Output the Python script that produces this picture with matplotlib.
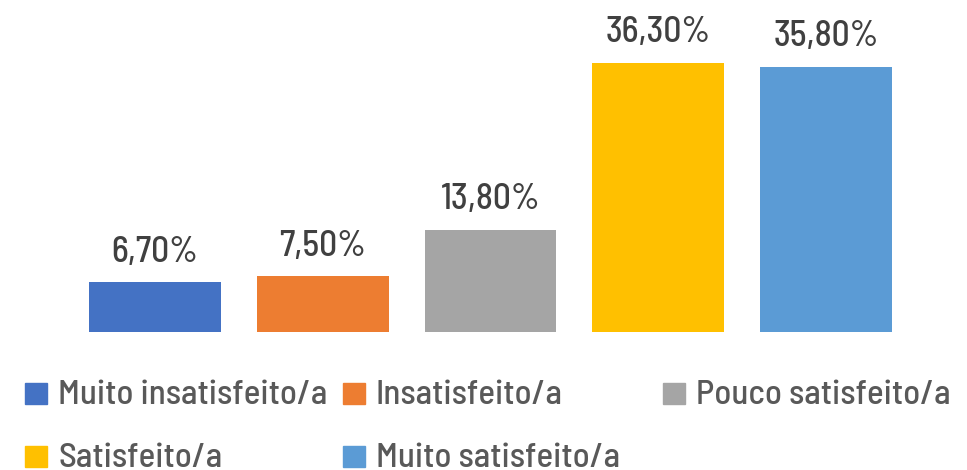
import matplotlib
matplotlib.use("Agg")
import matplotlib.pyplot as plt
from matplotlib.patches import Rectangle

categories = ["Muito insatisfeito/a", "Insatisfeito/a", "Pouco satisfeito/a",
              "Satisfeito/a", "Muito satisfeito/a"]
values = [6.7, 7.5, 13.8, 36.3, 35.8]
labels = ["6,70%", "7,50%", "13,80%", "36,30%", "35,80%"]
colors = ["#4472C4", "#ED7D31", "#A5A5A5", "#FFC000", "#5B9BD5"]

plt.rcParams["font.family"] = ["Barlow Semi Condensed", "DejaVu Sans"]

W, H = 967, 470
fig = plt.figure(figsize=(W / 100, H / 100), dpi=100)
ax = fig.add_axes([71 / W, (H - 332) / H, 839 / W, 332 / H])
x = list(range(len(values)))
ax.bar(x, values, width=0.786, color=colors)
ax.set_xlim(-0.5, 4.5)
ax.set_ylim(0, 332 / 7.41)
for xi, v, lab in zip(x, values, labels):
    ax.annotate(lab, (xi, v), xytext=(0, 15), textcoords="offset points",
                ha="center", va="baseline", fontsize=25.6, fontweight="medium",
                color="#404040")
ax.axis("off")

# legend (Excel-like equal-width columns)
col_x = [25, 343, 663]
row_bottom = [404, 467]
for i, (cat, col) in enumerate(zip(categories, colors)):
    r, c = divmod(i, 3)
    px, pb = col_x[c], row_bottom[r]
    fig.patches.append(Rectangle((px / W, (H - pb) / H), 22 / W, 21 / H,
                                 transform=fig.transFigure, color=col))
    fig.text((px + 33) / W, (H - pb) / H, cat, ha="left", va="baseline",
             fontsize=25.2, fontweight="medium", color="#595959")

fig.savefig("out.png", dpi=100)
